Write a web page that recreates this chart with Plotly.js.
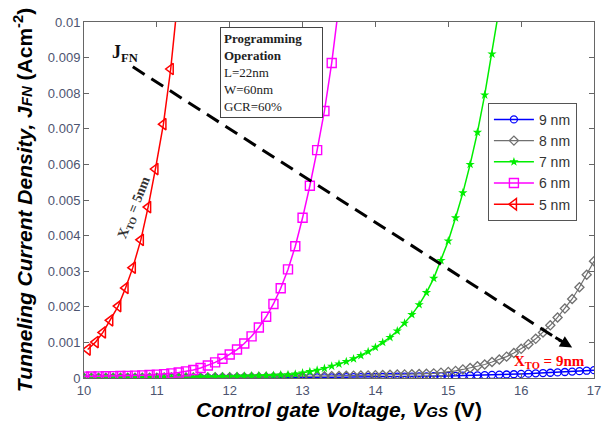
<!DOCTYPE html>
<html>
<head>
<meta charset="utf-8">
<script src="https://cdn.plot.ly/plotly-3.0.1.min.js"></script>
<style>html,body{margin:0;padding:0;background:#fff}#chart{width:606px;height:427px}</style>
</head>
<body>
<div id="chart"></div>
<script>
// ---- data ----
const legendNames = ["9 nm", "8 nm", "7 nm", "6 nm", "5 nm"];

const vFull = [10.0,10.1,10.2,10.3,10.4,10.5,10.6,10.7,10.8,10.9,
               11.0,11.1,11.2,11.3,11.4,11.5,11.6,11.7,11.8,11.9,
               12.0,12.1,12.2,12.3,12.4,12.5,12.6,12.7,12.8,12.9,
               13.0,13.1,13.2,13.3,13.4,13.5,13.6,13.7,13.8,13.9,
               14.0,14.1,14.2,14.3,14.4,14.5,14.6,14.7,14.8,14.9,
               15.0,15.1,15.2,15.3,15.4,15.5,15.6,15.7,15.8,15.9,
               16.0,16.1,16.2,16.3,16.4,16.5,16.6,16.7,16.8,16.9,17.0];

const j9nm = [0.000002,0.000002,0.000002,0.000002,0.000003,0.000003,0.000003,0.000003,0.000003,0.000004,
              0.000004,0.000004,0.000005,0.000005,0.000005,0.000006,0.000006,0.000006,0.000007,0.000007,
              0.000008,0.000008,0.000009,0.000010,0.000010,0.000011,0.000012,0.000013,0.000014,0.000015,
              0.000016,0.000017,0.000018,0.000019,0.000020,0.000021,0.000023,0.000025,0.000026,0.000028,
              0.000030,0.000032,0.000034,0.000036,0.000039,0.000041,0.000044,0.000047,0.000050,0.000054,
              0.000058,0.000062,0.000066,0.000070,0.000075,0.000080,0.000086,0.000092,0.000098,0.000105,
              0.000115,0.000122,0.000130,0.000139,0.000148,0.000158,0.000168,0.000180,0.000192,0.000205,0.000220];

const j8nm = [0.000006,0.000006,0.000007,0.000007,0.000008,0.000008,0.000009,0.000009,0.000010,0.000011,
              0.000011,0.000012,0.000013,0.000014,0.000015,0.000016,0.000017,0.000018,0.000019,0.000020,
              0.000022,0.000023,0.000025,0.000026,0.000028,0.000030,0.000032,0.000034,0.000036,0.000039,
              0.000041,0.000044,0.000047,0.000050,0.000053,0.000057,0.000061,0.000065,0.000069,0.000074,
              0.000079,0.000084,0.000090,0.000096,0.000100,0.000105,0.000110,0.000120,0.000130,0.000150,
              0.000170,0.000200,0.000240,0.000280,0.000330,0.000380,0.000450,0.000520,0.000600,0.000700,
              0.000820,0.000950,0.001100,0.001280,0.001480,0.001700,0.001950,0.002220,0.002550,0.002900,0.003280];

const v7nm = [10.0,10.1,10.2,10.3,10.4,10.5,10.6,10.7,10.8,10.9,
              11.0,11.1,11.2,11.3,11.4,11.5,11.6,11.7,11.8,11.9,
              12.0,12.1,12.2,12.3,12.4,12.5,12.6,12.7,12.8,12.9,
              13.0,13.1,13.2,13.3,13.4,13.5,13.6,13.7,13.8,13.9,
              14.0,14.1,14.2,14.3,14.4,14.5,14.6,14.7,14.8,14.9,
              15.0,15.1,15.2,15.3,15.4,15.5,15.6,15.7];
const j7nm = [0.000010,0.000011,0.000012,0.000013,0.000014,0.000015,0.000016,0.000017,0.000018,0.000019,
              0.000020,0.000022,0.000024,0.000026,0.000028,0.000030,0.000032,0.000035,0.000038,0.000041,
              0.000045,0.000049,0.000053,0.000058,0.000063,0.000069,0.000076,0.000084,0.000093,0.000110,
              0.000140,0.000180,0.000220,0.000270,0.000330,0.000390,0.000460,0.000540,0.000630,0.000740,
              0.000860,0.001000,0.001140,0.001320,0.001540,0.001780,0.002060,0.002400,0.002800,0.003300,
              0.003850,0.004500,0.005200,0.006000,0.006900,0.007950,0.009100,0.010400];

const v6nm = [10.0,10.1,10.2,10.3,10.4,10.5,10.6,10.7,10.8,10.9,
              11.0,11.1,11.2,11.3,11.4,11.5,11.6,11.7,11.8,11.9,
              12.0,12.1,12.2,12.3,12.4,12.5,12.6,12.7,12.8,12.9,
              13.0,13.1,13.2,13.3,13.4,13.5];
const j6nm = [0.000040,0.000042,0.000045,0.000048,0.000052,0.000056,0.000061,0.000067,0.000074,0.000083,
              0.000095,0.000110,0.000130,0.000155,0.000185,0.000225,0.000280,0.000350,0.000440,0.000540,
              0.000660,0.000800,0.000970,0.001170,0.001420,0.001720,0.002080,0.002520,0.003050,0.003700,
              0.004500,0.005400,0.006400,0.007500,0.008850,0.010500];

const v5nm = [10.05,10.16,10.26,10.36,10.47,10.57,10.67,10.78,10.88,10.98,11.09,11.19,11.29,11.40];
const j5nm = [0.00080,0.00101,0.00128,0.00162,0.00202,0.00253,0.00310,0.00388,0.00480,0.00587,0.00713,0.00868,0.01060,0.01290];

const xTickVals = [10,11,12,13,14,15,16,17];
const yTickVals = [0,0.001,0.002,0.003,0.004,0.005,0.006,0.007,0.008,0.009,0.01];
const yTickText = ["0","0.001","0.002","0.003","0.004","0.005","0.006","0.007","0.008","0.009","0.01"];

// ---- traces ----
const traces = [
  {x: vFull, y: j9nm, name: legendNames[0], mode: "lines+markers",
   line: {color: "#0000ff", width: 1.5},
   marker: {symbol: "circle-open", size: 7, color: "#0000ff", line: {width: 1.3}}},
  {x: vFull, y: j8nm, name: legendNames[1], mode: "lines+markers",
   line: {color: "#707070", width: 1.2},
   marker: {symbol: "diamond-open", size: 7, color: "#707070", line: {width: 1.3}}},
  {x: v7nm, y: j7nm, name: legendNames[2], mode: "lines+markers",
   line: {color: "#00ee00", width: 1.5},
   marker: {symbol: "star", size: 7, color: "#00ee00"}},
  {x: v6nm, y: j6nm, name: legendNames[3], mode: "lines+markers",
   line: {color: "#ff00ff", width: 1.5},
   marker: {symbol: "square-open", size: 9, color: "#ff00ff", line: {width: 1.4}}},
  {x: v5nm, y: j5nm, name: legendNames[4], mode: "lines+markers",
   line: {color: "#ff0000", width: 1.5},
   marker: {symbol: "triangle-left-open", size: 10, color: "#ff0000", line: {width: 1.5}}}
];

const tickFont = {family: "Liberation Sans, Arial, sans-serif", size: 13, color: "#4d5470"};
const serif = "Liberation Serif, Times New Roman, serif";

const layout = {
  width: 606, height: 427,
  margin: {l: 84, r: 12, t: 22, b: 49},
  paper_bgcolor: "#ffffff", plot_bgcolor: "#ffffff",
  showlegend: true,
  legend: {x: 0.792, y: 0.773, xanchor: "left", yanchor: "top",
           bgcolor: "#ffffff", bordercolor: "#555555", borderwidth: 1,
           font: {family: "Liberation Sans, Arial, sans-serif", size: 14, color: "#333333"},
           tracegroupgap: 0, itemwidth: 40},
  xaxis: {range: [10, 17], tickvals: xTickVals, ticks: "inside", ticklen: 5,
          tickcolor: "#666666", showline: true, linecolor: "#666666", linewidth: 1,
          mirror: "ticks", showgrid: false, zeroline: false, tickfont: tickFont,
          title: {text: "<b><i>Control gate Voltage, V<span style='font-size:15px'>GS</span></i> (V)</b>",
                  font: {family: "Liberation Sans, Arial, sans-serif", size: 21, color: "#000"}, standoff: 3}},
  yaxis: {range: [0, 0.01], tickvals: yTickVals, ticktext: yTickText, ticks: "inside", ticklen: 5,
          tickcolor: "#666666", showline: true, linecolor: "#666666", linewidth: 1,
          mirror: "ticks", showgrid: false, zeroline: false, tickfont: tickFont,
          title: {text: "<b><i>Tunneling Current Density, J<span style='font-size:15px'>FN</span></i> (Acm<sup>-2</sup>)</b>",
                  font: {family: "Liberation Sans, Arial, sans-serif", size: 21, color: "#000"}, standoff: 9}},
  shapes: [
    {type: "line", xref: "x", yref: "y", x0: 10.67, y0: 0.00874, x1: 16.55, y1: 0.00103,
     line: {color: "#000000", width: 3, dash: "14px,8px"}}
  ],
  annotations: [
    {xref: "x", yref: "y", x: 16.7, y: 0.00086, axref: "x", ayref: "y", ax: 16.45, ay: 0.00116,
     showarrow: true, arrowhead: 2, arrowsize: 0.8, arrowwidth: 3, arrowcolor: "#000", text: "", standoff: 0},
    {xref: "x", yref: "y", x: 10.56, y: 0.00912, showarrow: false,
     text: "<b>J<sub>FN</sub></b>", font: {family: serif, size: 18, color: "#111"}},
    {xref: "x", yref: "y", x: 10.7, y: 0.00478, showarrow: false, textangle: -68,
     text: "<b>X<sub>TO</sub> = 5nm</b>", font: {family: serif, size: 14, color: "#333"}},
    {xref: "x", yref: "y", x: 16.39, y: 0.00045, showarrow: false,
     text: "<b>X<sub>TO</sub> = 9nm</b>", font: {family: serif, size: 15, color: "#ff0000"}},
    {xref: "paper", yref: "paper", x: 0.266, y: 0.986, xanchor: "left", yanchor: "top",
     showarrow: false, align: "left", bordercolor: "#444", borderwidth: 1, borderpad: 3,
     bgcolor: "#ffffff", width: 95,
     text: "<b>Programming</b><br><b>Operation</b><br>L=22nm<br>W=60nm<br>GCR=60%",
     font: {family: serif, size: 13, color: "#222"}}
  ]
};

Plotly.newPlot("chart", traces, layout, {displayModeBar: false, staticPlot: true});
</script>
</body>
</html>
